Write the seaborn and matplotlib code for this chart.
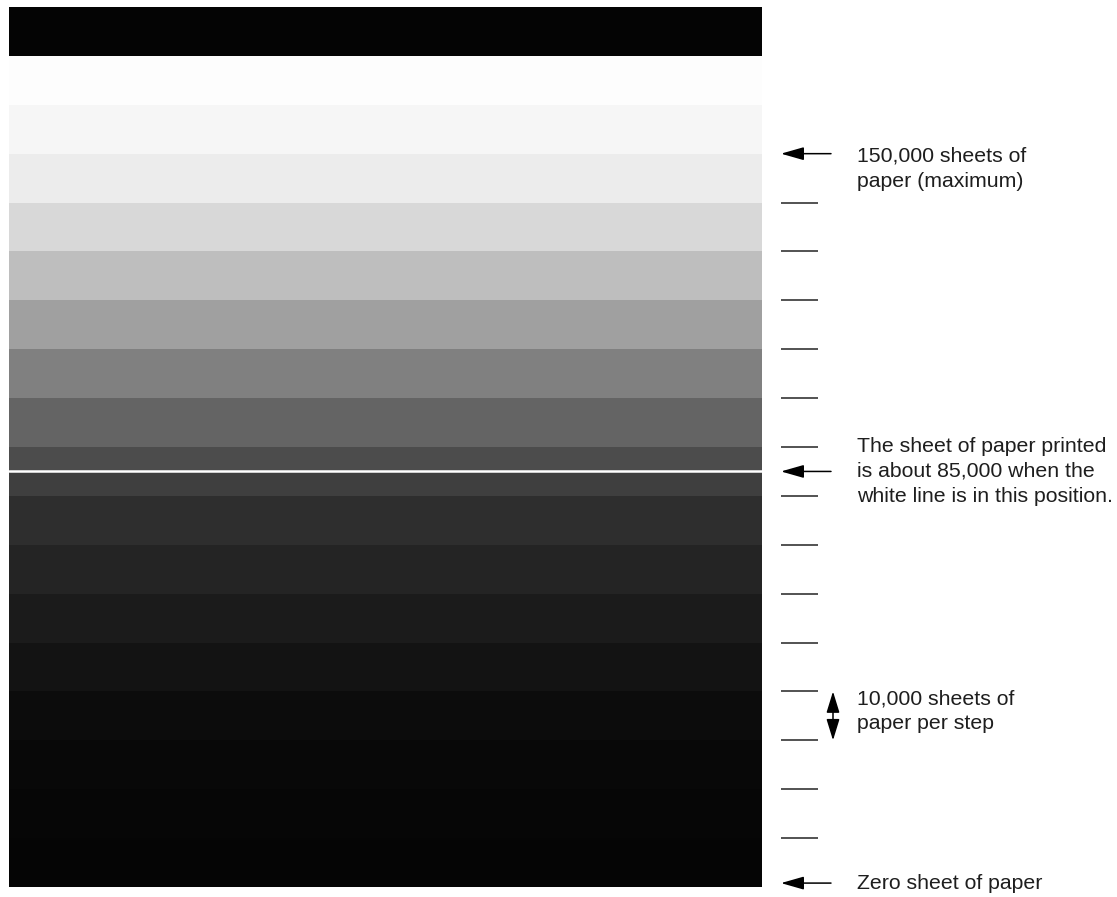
import numpy as np
import pandas as pd
import matplotlib
matplotlib.use("Agg")
import matplotlib.pyplot as plt
import seaborn as sns

# ---- data (sheet counts in thousands, gray levels 0-255) ----
band_top_k = [180, 170, 160, 150, 140, 130, 120, 110, 100, 90, 85, 80, 70, 60, 50, 40, 30, 20, 10]
band_bottom_k = [170, 160, 150, 140, 130, 120, 110, 100, 90, 85, 80, 70, 60, 50, 40, 30, 20, 10, 0]
band_gray = [4, 253, 246, 236, 216, 190, 160, 128, 100, 76, 63, 46, 36, 27, 19, 12, 8, 6, 5]

tick_marks_k = [140, 130, 120, 110, 100, 90, 80, 70, 60, 50, 40, 30, 20, 10]
white_line_k = 85
max_k = 150
zero_k = 0.8
step_arrow_k = [40, 30]

label_max = "150,000 sheets of\npaper (maximum)"
label_now = "The sheet of paper printed\nis about 85,000 when the\nwhite line is in this position."
label_step = "10,000 sheets of\npaper per step"
label_zero = "Zero sheet of paper"

# ---- build the strip matrix (5k rows) ----
ROW_K = 5
rows = []
for top, bot, g in zip(band_top_k, band_bottom_k, band_gray):
    rows += [g] * int((top - bot) / ROW_K)
mat = pd.DataFrame(np.array(rows, dtype=float).reshape(-1, 1))
TOP_K = band_top_k[0]


def hy(k):
    """sheet count (thousands) -> heatmap row coordinate"""
    return (TOP_K - k) / ROW_K


sns.set_theme(style="white")
plt.rcParams["font.family"] = ["Liberation Sans", "DejaVu Sans"]

W, H = 1117, 897
fig = plt.figure(figsize=(W / 100, H / 100), dpi=100)
ax = fig.add_axes([9 / W, 1 - 887 / H, 753 / W, 880 / H])
sns.heatmap(mat, ax=ax, cmap="gray", vmin=0, vmax=255, cbar=False,
            xticklabels=False, yticklabels=False)
ax.axhline(hy(white_line_k), color="white", lw=1.8)
for s in ax.spines.values():
    s.set_visible(False)

trans = ax.get_yaxis_transform()  # x in axes fraction, y in data
x0 = (781 - 9) / 753
x1 = (818 - 9) / 753
xarr = (831 - 9) / 753
xtxt = (857 - 9) / 753
xdbl = (833 - 9) / 753
tcol = "#1e1e1e"

for k in tick_marks_k:
    ax.plot([x0, x1], [hy(k), hy(k)], transform=trans, color="#444444",
            lw=1.3, clip_on=False, solid_capstyle="butt")

arrow_kw = dict(arrowstyle="-|>,head_length=0.7,head_width=0.2",
                color="black", lw=1.1, mutation_scale=20,
                shrinkA=0, shrinkB=0)
for k in [max_k, white_line_k, zero_k]:
    ax.annotate("", xy=(x0, hy(k)), xytext=(xarr, hy(k)),
                xycoords=trans, textcoords=trans, arrowprops=arrow_kw,
                annotation_clip=False)

dbl_kw = dict(arrowstyle="<|-|>,head_length=0.65,head_width=0.2",
              color="black", lw=1.1, mutation_scale=20, shrinkA=0, shrinkB=0)
ax.annotate("", xy=(xdbl, hy(step_arrow_k[1])), xytext=(xdbl, hy(step_arrow_k[0])),
            xycoords=trans, textcoords=trans, arrowprops=dbl_kw,
            annotation_clip=False)

fs = 15.3
ls = 1.38
ax.text(xtxt, hy(max_k) + 0.62, label_max, transform=trans, fontsize=fs,
        color=tcol, va="center", ha="left", linespacing=1.45)
ax.text(xtxt, hy(white_line_k), label_now, transform=trans, fontsize=fs,
        color=tcol, va="center", ha="left", linespacing=ls)
ax.text(xtxt, hy(36), label_step, transform=trans, fontsize=fs,
        color=tcol, va="center", ha="left", linespacing=ls)
ax.text(xtxt, hy(zero_k), label_zero, transform=trans, fontsize=fs,
        color=tcol, va="center", ha="left")

fig.savefig("out.png", dpi=100, facecolor="white")
